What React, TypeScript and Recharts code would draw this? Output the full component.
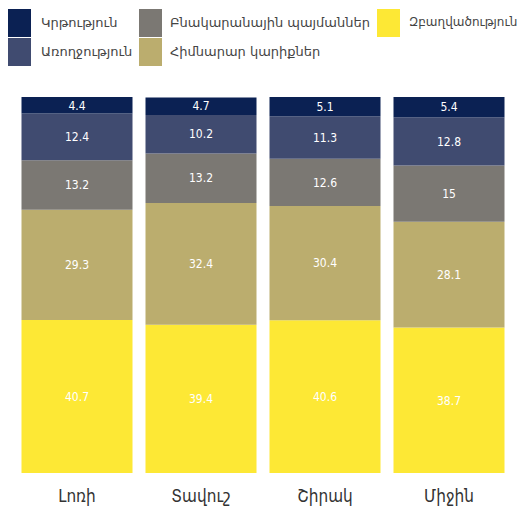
import React from "react";
import { BarChart, Bar, XAxis, YAxis, LabelList } from "recharts";

const regions = ["Լոռի", "Տավուշ", "Շիրակ", "Միջին"];
const employment = [40.7, 39.4, 40.6, 38.7];
const basicNeeds = [29.3, 32.4, 30.4, 28.1];
const housing = [13.2, 13.2, 12.6, 15];
const health = [12.4, 10.2, 11.3, 12.8];
const education = [4.4, 4.7, 5.1, 5.4];

const SERIES = [
  { key: "employment", name: "Զբաղվածություն", color: "#fde835" },
  { key: "basicNeeds", name: "Հիմնարար կարիքներ", color: "#bbad6e" },
  { key: "housing", name: "Բնակարանային պայմաններ", color: "#7b7873" },
  { key: "health", name: "Առողջություն", color: "#404b70" },
  { key: "education", name: "Կրթություն", color: "#0b2153" },
];

const data = regions.map((name, i) => ({
  name,
  employment: employment[i],
  basicNeeds: basicNeeds[i],
  housing: housing[i],
  health: health[i],
  education: education[i],
}));

const FONT = "'DejaVu Sans Condensed', 'DejaVu Sans', sans-serif";

// legend entries laid out like the original: two rows, three columns
const LEGEND = [
  { name: "Կրթություն", color: "#0b2153", x: 8, y: 9, tx: 41, fs: 13 },
  { name: "Առողջություն", color: "#404b70", x: 8, y: 38, tx: 41, fs: 13 },
  { name: "Բնակարանային պայմաններ", color: "#7b7873", x: 139, y: 9, tx: 170, fs: 13 },
  { name: "Հիմնարար կարիքներ", color: "#bbad6e", x: 139, y: 38, tx: 170, fs: 13 },
  { name: "Զբաղվածություն", color: "#fde835", x: 377, y: 9, tx: 409, fs: 12 },
];

export default function App() {
  return (
    <div
      style={{
        position: "absolute",
        left: 0,
        top: 0,
        width: 524,
        height: 509,
        overflow: "hidden",
        background: "#fff",
        fontFamily: FONT,
      }}
    >
      {LEGEND.map((l) => (
        <React.Fragment key={l.name}>
          <div
            style={{
              position: "absolute",
              left: l.x,
              top: l.y,
              width: 23,
              height: 28,
              background: l.color,
            }}
          />
          <div
            style={{
              position: "absolute",
              left: l.tx,
              top: l.y + 6,
              fontSize: l.fs,
              fontFamily: "'DejaVu Sans', sans-serif",
              color: "#444",
              whiteSpace: "nowrap",
            }}
          >
            {l.name}
          </div>
        </React.Fragment>
      ))}
      <div style={{ position: "absolute", left: 0, top: 0 }}>
        <BarChart
          width={524}
          height={509}
          data={data}
          margin={{ top: 97, right: 13, bottom: 0, left: 15 }}
          barCategoryGap={6.5}
        >
          <XAxis
            dataKey="name"
            axisLine={false}
            tickLine={false}
            tick={{ fill: "#333", fontSize: 17, fontFamily: FONT }}
            tickMargin={11}
            height={36}
          />
          <YAxis hide domain={[0, 100]} />
          {SERIES.map((s) => (
            <Bar
              key={s.key}
              dataKey={s.key}
              name={s.name}
              stackId="a"
              fill={s.color}
              isAnimationActive={false}
            >
              <LabelList
                dataKey={s.key}
                position="center"
                fill="#fff"
                fontSize={12}
                fontFamily={FONT}
              />
            </Bar>
          ))}
        </BarChart>
      </div>
    </div>
  );
}
